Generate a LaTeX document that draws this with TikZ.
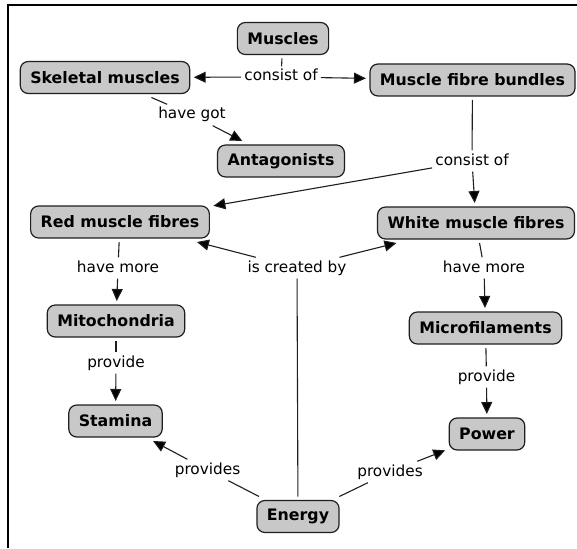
\documentclass[tikz,border=0pt]{standalone}
\usepackage{fontspec}
\setmainfont{DejaVu Sans}
\usetikzlibrary{arrows.meta}
\definecolor{conceptfill}{RGB}{200,200,200}
\definecolor{linkgray}{RGB}{30,30,30}
\begin{document}
\begin{tikzpicture}[x=1pt,y=-1pt,
  concept/.style={draw=linkgray, line width=1.2pt, fill=conceptfill,
    rounded corners=8pt, font=\fontsize{15.8}{18}\selectfont\bfseries,
    inner xsep=10pt, inner ysep=0pt, minimum height=32pt, outer sep=4pt},
  phrase/.style={font=\fontsize{15.3}{18}\selectfont, inner xsep=3pt,
    inner ysep=3pt, text height=11.5pt, text depth=3.5pt},
  link/.style={draw=linkgray, line width=1.1pt},
  linkarrow/.style={link, -{Triangle[length=12pt,width=11pt,fill=black]}}
]
\useasboundingbox (0,0) rectangle (577,548);

% frame along the top and left edges
\draw[line width=2pt] (8,548) -- (8,5) -- (577,5);

% concepts
\node[concept] (muscles)  at (283,38.5) {Muscles};
\node[concept] (skeletal) at (105,77.5) {Skeletal muscles};
\node[concept] (bundles)  at (472.5,80) {Muscle fibre bundles};
\node[concept] (antag)    at (281,161)  {Antagonists};
\node[concept] (red)      at (120,222)  {Red muscle fibres};
\node[concept] (white)    at (476,223)  {White muscle fibres};
\node[concept] (mito)     at (116,321)  {Mitochondria};
\node[concept] (micro)    at (485.5,328) {Microfilaments};
\node[concept] (stamina)  at (115.5,421) {Stamina};
\node[concept] (power)    at (487,434)  {Power};
\node[concept] (energy)   at (298,516.5) {Energy};

% linking phrases
\node[phrase] (cons1)     at (281,77)   {consist of};
\node[phrase] (havegot)   at (192,115)  {have got};
\node[phrase] (cons2)     at (472,161)  {consist of};
\node[phrase] (moreL)     at (118,268)  {have more};
\node[phrase] (created)   at (297,268)  {is created by};
\node[phrase] (moreR)     at (484,268)  {have more};
\node[phrase] (provL)     at (116,363)  {provide};
\node[phrase] (provR)     at (486.5,377) {provide};
\node[phrase] (provsL)    at (207.5,470) {provides};
\node[phrase] (provsR)    at (390,472)  {provides};

% connections
\draw[link] (muscles) -- (cons1);
\draw[linkarrow] (cons1) -- (skeletal);
\draw[linkarrow] (cons1) -- (bundles);

\draw[link] (skeletal) -- (havegot);
\draw[linkarrow] (havegot) -- (antag);

\draw[link] (bundles) -- (cons2);
\draw[linkarrow] (cons2) -- (red);
\draw[linkarrow] (cons2) -- (white);

\draw[link] (red) -- (moreL);
\draw[linkarrow] (moreL) -- (mito);
\draw[link] (white) -- (moreR);
\draw[linkarrow] (moreR) -- (micro);

\draw[link] (mito) -- (provL);
\draw[linkarrow] (provL) -- (stamina);
\draw[link] (micro) -- (provR);
\draw[linkarrow] (provR) -- (power);

\draw[link] (energy) -- (created);
\draw[linkarrow] (created) -- (red);
\draw[linkarrow] (created) -- (white);

\draw[link] (energy) -- (provsL);
\draw[linkarrow] (provsL) -- (stamina);
\draw[link] (energy) -- (provsR);
\draw[linkarrow] (provsR) -- (power);
\end{tikzpicture}
\end{document}
